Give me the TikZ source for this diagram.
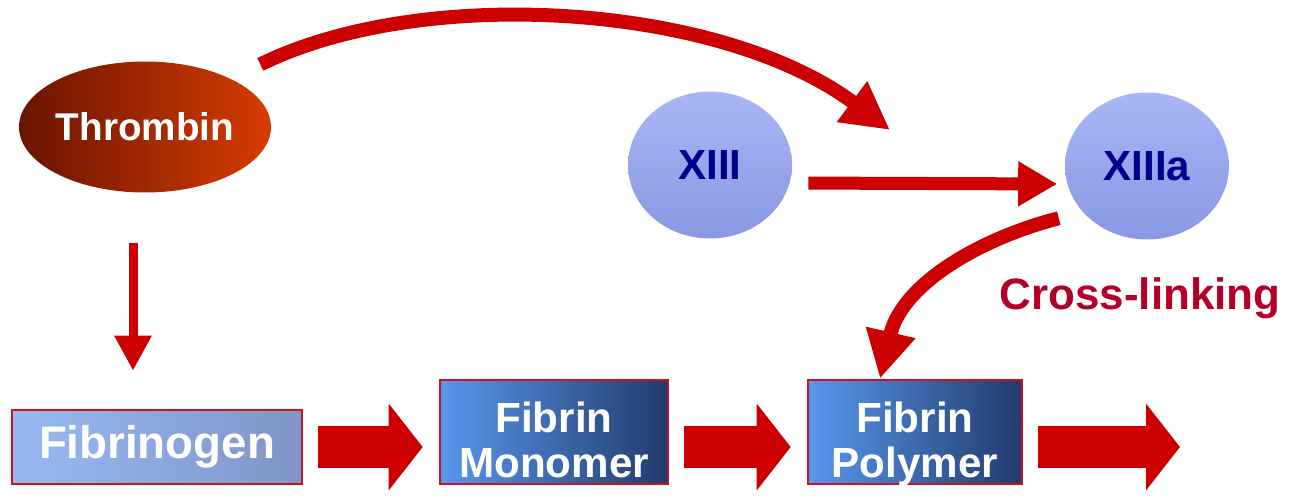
\documentclass[tikz,border=0pt]{standalone}
\usepackage{fontspec}
\setmainfont{Liberation Sans}
\usetikzlibrary{arrows.meta, positioning, shapes.geometric, calc}

\definecolor{arrowred}{RGB}{204,0,0}
\definecolor{boxred}{RGB}{200,20,30}
\definecolor{linkred}{RGB}{180,0,40}
\definecolor{thrdark}{RGB}{105,20,0}
\definecolor{thrlight}{RGB}{215,60,0}
\definecolor{circtop}{RGB}{168,182,246}
\definecolor{circbot}{RGB}{136,152,226}
\definecolor{factorblue}{RGB}{0,0,140}
\definecolor{fgenleft}{RGB}{150,186,242}
\definecolor{fgenright}{RGB}{128,148,200}
\definecolor{fibleft}{RGB}{88,152,238}
\definecolor{fibright}{RGB}{34,58,108}

\begin{document}
\begin{tikzpicture}[
    x=0.02cm, y=-0.02cm,
    enzyme/.style={ellipse, inner sep=0pt, minimum width=3.28cm,
                   minimum height=2.94cm, top color=circtop,
                   bottom color=circbot, text=factorblue,
                   font=\fontsize{24}{26}\selectfont\bfseries},
    fibbox/.style={rectangle, draw=boxred, line width=1.5pt, text=white,
                   align=center, minimum height=2.08cm,
                   left color=fibleft, right color=fibright,
                   font=\fontsize{24}{26}\selectfont\bfseries},
    fibpair/.style={fibbox, text height=52pt, text depth=0pt},
    bendarrow/.style={arrowred, line width=0.28cm,
                      -{Triangle[length=0.95cm, width=0.95cm]}},
    blockarrow/.style={arrowred, line width=0.84cm,
                       shorten <=0.3cm, shorten >=0.32cm,
                       -{Triangle[length=0.68cm, width=1.7cm]}}
  ]
  \useasboundingbox (0,0) rectangle (1294,501);

  \node[ellipse, inner sep=0pt, minimum width=4.92cm, minimum height=2.62cm,
        left color=thrdark, right color=thrlight, text=white,
        font=\fontsize{22}{24}\selectfont\bfseries] (thr) at (145,127) {Thrombin};
  \node[enzyme] (x13) at (710,165) {XIII};
  \node[enzyme] (x13a) at (1147,166) {XIIIa};

  \node[fibbox, minimum width=5.8cm, minimum height=1.48cm,
        left color=fgenleft, right color=fgenright,
        font=\fontsize{26}{28}\selectfont\bfseries] (fgen) at (157,447) {Fibrinogen};
  \node[fibpair, minimum width=4.56cm] (mono) at (554,432) {Fibrin\\Monomer};
  \node[fibpair, minimum width=4.28cm] (poly) at (915,432) {Fibrin\\Polymer};

  \node[text=linkred, font=\fontsize{25}{27}\selectfont\bfseries] (xlink)
    at (1140,298) {Cross-linking};

  \coordinate (act) at (890,130);
  \coordinate (out) at (1180,447);

  % thrombin activates XIII
  \draw[bendarrow] ([shift={(26,-16)}]thr.north east)
    .. controls +(162,-80) and +(-170,-127) .. (act);
  \draw[arrowred, line width=0.26cm, shorten <=0.32cm, shorten >=0.15cm,
        -{Triangle[length=0.78cm, width=0.85cm]}]
    ([yshift=-0.36cm]x13.east) -- ([yshift=-0.36cm]x13a.west);
  \draw[bendarrow] ([xshift=-0.6cm]x13a.south west)
    .. controls +(-78,20) and +(22,-95) .. ([xshift=-0.7cm]poly.north);

  % thrombin cleaves fibrinogen
  \draw[arrowred, line width=0.18cm, shorten <=1cm, shorten >=0.76cm,
        -{Triangle[length=0.7cm, width=0.7cm]}]
    ([xshift=-0.24cm]thr.south) -- ([xshift=-0.24cm]thr.south |- fgen.north);

  % fibrin chain
  \draw[blockarrow] (fgen.east) -- (fgen.east -| mono.west);
  \draw[blockarrow] (mono.east |- fgen.east) -- (fgen.east -| poly.west);
  \draw[blockarrow, shorten >=0pt] (poly.east |- fgen.east) -- (out);
\end{tikzpicture}
\end{document}
